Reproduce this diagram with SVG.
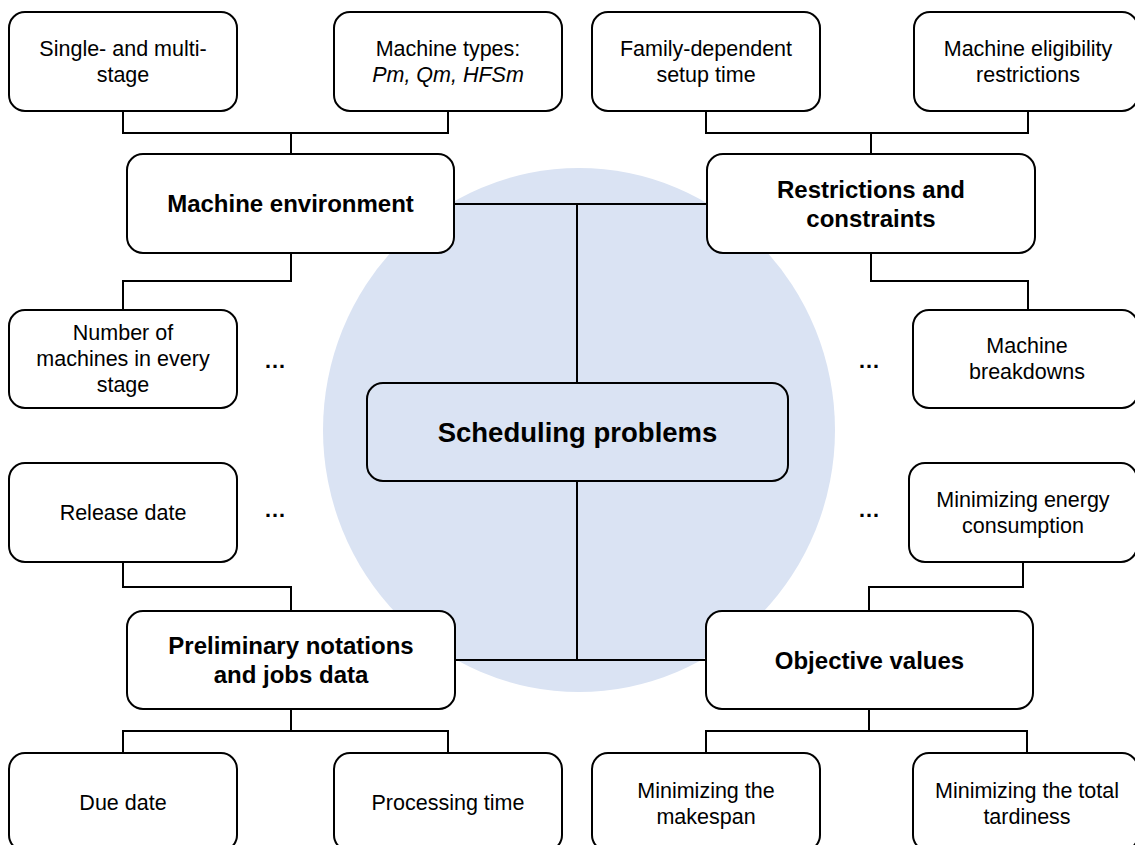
<svg xmlns="http://www.w3.org/2000/svg" width="1135" height="845" viewBox="0 0 1135 845">
  <style>
    .box { fill: #ffffff; stroke: #000000; stroke-width: 2; }
    .core { fill: none; stroke: #000000; stroke-width: 2; }
    .wire { fill: none; stroke: #000000; stroke-width: 2; }
    .t { font-family: "Liberation Sans", Arial, sans-serif; font-size: 21.5px; fill: #000000; text-anchor: middle; }
    .b { font-family: "Liberation Sans", Arial, sans-serif; font-size: 24px; font-weight: bold; fill: #000000; text-anchor: middle; }
    .big { font-family: "Liberation Sans", Arial, sans-serif; font-size: 27.5px; font-weight: bold; fill: #000000; text-anchor: middle; }
    .dots { font-family: "Liberation Sans", Arial, sans-serif; font-size: 22px; font-weight: bold; fill: #000000; text-anchor: middle; }
  </style>

  <!-- background disc behind the central node -->
  <ellipse cx="579" cy="430" rx="256" ry="262" fill="#dae3f3"/>

  <!-- connectors -->
  <g id="connectors" class="wire">
    <path d="M123,111 V133 H448 V111 M291,133 V154"/>
    <path d="M706,111 V133 H1028 V111 M871,133 V154"/>
    <path d="M454,204 H707 M577,204 V383"/>
    <path d="M577,481 V660 M455,660 H706"/>
    <path d="M291,253 V281 H123 V310"/>
    <path d="M871,253 V281 H1028 V310"/>
    <path d="M123,562 V587 H291 V611"/>
    <path d="M1023,562 V587 H869 V611"/>
    <path d="M291,709 V731 H123 V753 M291,731 H448 V753"/>
    <path d="M869,709 V731 H706 V753 M869,731 H1027 V753"/>
  </g>

  <!-- central node -->
  <g id="scheduling-problems">
    <rect class="core" x="367" y="383" width="421" height="98" rx="16"/>
    <text class="big" x="577.5" y="442">Scheduling problems</text>
  </g>

  <!-- category nodes -->
  <g id="machine-environment">
    <rect class="box" x="127" y="154" width="327" height="99" rx="16"/>
    <text class="b" x="290.5" y="212">Machine environment</text>
  </g>
  <g id="restrictions-constraints">
    <rect class="box" x="707" y="154" width="328" height="99" rx="16"/>
    <text class="b" x="871" y="198">Restrictions and</text>
    <text class="b" x="871" y="227">constraints</text>
  </g>
  <g id="preliminary-notations">
    <rect class="box" x="127" y="611" width="328" height="98" rx="16"/>
    <text class="b" x="291" y="654">Preliminary notations</text>
    <text class="b" x="291" y="683">and jobs data</text>
  </g>
  <g id="objective-values">
    <rect class="box" x="706" y="611" width="327" height="98" rx="16"/>
    <text class="b" x="869.5" y="669">Objective values</text>
  </g>

  <!-- top row -->
  <g id="single-multi-stage">
    <rect class="box" x="9" y="12" width="228" height="99" rx="16"/>
    <text class="t" x="123" y="56">Single- and multi-</text>
    <text class="t" x="123" y="82">stage</text>
  </g>
  <g id="machine-types">
    <rect class="box" x="334" y="12" width="228" height="99" rx="16"/>
    <text class="t" x="448" y="56">Machine types:</text>
    <text class="t" x="448" y="82" font-style="italic">Pm, Qm, HFSm</text>
  </g>
  <g id="family-setup">
    <rect class="box" x="592" y="12" width="228" height="99" rx="16"/>
    <text class="t" x="706" y="56">Family-dependent</text>
    <text class="t" x="706" y="82">setup time</text>
  </g>
  <g id="machine-eligibility">
    <rect class="box" x="914" y="12" width="224" height="99" rx="16"/>
    <text class="t" x="1028" y="56">Machine eligibility</text>
    <text class="t" x="1028" y="82">restrictions</text>
  </g>

  <!-- middle rows -->
  <g id="machines-per-stage">
    <rect class="box" x="9" y="310" width="228" height="98" rx="16"/>
    <text class="t" x="123" y="340">Number of</text>
    <text class="t" x="123" y="366">machines in every</text>
    <text class="t" x="123" y="392">stage</text>
  </g>
  <g id="machine-breakdowns">
    <rect class="box" x="913" y="310" width="225" height="98" rx="16"/>
    <text class="t" x="1027" y="353">Machine</text>
    <text class="t" x="1027" y="379">breakdowns</text>
  </g>
  <g id="release-date">
    <rect class="box" x="9" y="463" width="228" height="99" rx="16"/>
    <text class="t" x="123" y="520">Release date</text>
  </g>
  <g id="energy-consumption">
    <rect class="box" x="909" y="463" width="228" height="99" rx="16"/>
    <text class="t" x="1023" y="507">Minimizing energy</text>
    <text class="t" x="1023" y="533">consumption</text>
  </g>

  <!-- ellipsis markers -->
  <g id="more-items">
    <text class="dots" x="275" y="368">…</text>
    <text class="dots" x="275" y="517">…</text>
    <text class="dots" x="869" y="368">…</text>
    <text class="dots" x="869" y="517">…</text>
  </g>

  <!-- bottom row -->
  <g id="due-date">
    <rect class="box" x="9" y="753" width="228" height="98" rx="16"/>
    <text class="t" x="123" y="810">Due date</text>
  </g>
  <g id="processing-time">
    <rect class="box" x="334" y="753" width="228" height="98" rx="16"/>
    <text class="t" x="448" y="810">Processing time</text>
  </g>
  <g id="makespan">
    <rect class="box" x="592" y="753" width="228" height="98" rx="16"/>
    <text class="t" x="706" y="798">Minimizing the</text>
    <text class="t" x="706" y="824">makespan</text>
  </g>
  <g id="total-tardiness">
    <rect class="box" x="913" y="753" width="225" height="98" rx="16"/>
    <text class="t" x="1027" y="798">Minimizing the total</text>
    <text class="t" x="1027" y="824">tardiness</text>
  </g>
</svg>
